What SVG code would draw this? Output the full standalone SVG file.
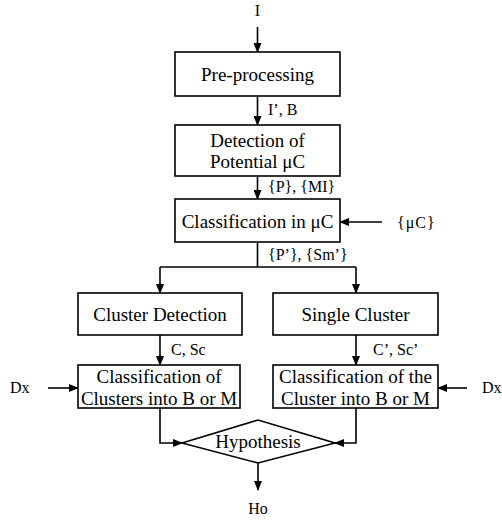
<svg xmlns="http://www.w3.org/2000/svg" width="502" height="521" viewBox="0 0 502 521">
<defs>
<marker id="ah" markerWidth="10" markerHeight="8" refX="9" refY="4" orient="auto" markerUnits="userSpaceOnUse">
<path d="M0,0 L10,4 L0,8 Z" fill="#000"/>
</marker>
<style>
.box{fill:#fff;stroke:#000;stroke-width:1.6}
.t{font-family:"Liberation Serif","Times New Roman",serif;font-size:19px;fill:#000;text-anchor:middle}
.l{font-family:"Liberation Serif","Times New Roman",serif;font-size:16px;fill:#000}
.c{fill:none;stroke:#000;stroke-width:1.6}
.a{fill:none;stroke:#000;stroke-width:1.6;marker-end:url(#ah)}
</style>
</defs>
<rect width="502" height="521" fill="#fff"/>
<g id="connectors">
<line class="a" x1="257.5" y1="27" x2="257.5" y2="52"/>
<line class="a" x1="257.5" y1="96" x2="257.5" y2="125"/>
<line class="a" x1="257.5" y1="176" x2="257.5" y2="199"/>
<line class="a" x1="382" y1="222" x2="340" y2="222"/>
<polyline class="c" points="257.5,242 257.5,267"/>
<polyline class="a" points="160,267 160,293"/>
<polyline class="c" points="160,267 356,267"/>
<polyline class="a" points="356,267 356,293"/>
<line class="a" x1="160" y1="335" x2="160" y2="365"/>
<line class="a" x1="356" y1="335" x2="356" y2="365"/>
<line class="a" x1="48" y1="388" x2="78" y2="388"/>
<line class="a" x1="467" y1="388" x2="438" y2="388"/>
<polyline class="a" points="160,408 160,443 182,443"/>
<polyline class="a" points="356,408 356,443 335,443"/>
<line class="a" x1="258" y1="463" x2="258" y2="490"/>
<text class="l" x="257.5" y="16" text-anchor="middle">I</text>
<text class="l" x="268" y="115">I’, B</text>
<text class="l" x="268" y="192">{P}, {MI}</text>
<text class="l" x="397" y="228" letter-spacing="1">{μC}</text>
<text class="l" x="268" y="260">{P’}, {Sm’}</text>
<text class="l" x="171" y="355">C, Sc</text>
<text class="l" x="373" y="355">C’, Sc’</text>
<text class="l" x="10" y="393">Dx</text>
<text class="l" x="482" y="393">Dx</text>
<text class="l" x="258" y="514" text-anchor="middle">Ho</text>
</g>
<g id="preprocessing">
<rect class="box" x="175" y="52" width="165" height="44"/>
<text class="t" x="257.5" y="81">Pre-processing</text>
</g>
<g id="detection">
<rect class="box" x="175" y="125" width="165" height="51"/>
<text class="t" x="257.5" y="147">Detection of</text>
<text class="t" x="257.5" y="168">Potential μC</text>
</g>
<g id="classification">
<rect class="box" x="175" y="199" width="165" height="43"/>
<text class="t" x="257.5" y="228">Classification in μC</text>
</g>
<g id="cluster-detection">
<rect class="box" x="78" y="293" width="164" height="42"/>
<text class="t" x="160" y="321">Cluster Detection</text>
</g>
<g id="single-cluster">
<rect class="box" x="273" y="293" width="165" height="42"/>
<text class="t" x="355.5" y="321">Single Cluster</text>
</g>
<g id="classify-clusters">
<rect class="box" x="78" y="365" width="162" height="43"/>
<text class="t" x="159" y="383">Classification of</text>
<text class="t" x="159" y="405">Clusters into B or M</text>
</g>
<g id="classify-cluster">
<rect class="box" x="273" y="365" width="165" height="43"/>
<text class="t" x="355.5" y="383">Classification of the</text>
<text class="t" x="355.5" y="405">Cluster into B or M</text>
</g>
<g id="hypothesis">
<polygon class="box" points="182,443 258,420 335,443 258,463"/>
<text class="t" x="258" y="448">Hypothesis</text>
</g>
</svg>
